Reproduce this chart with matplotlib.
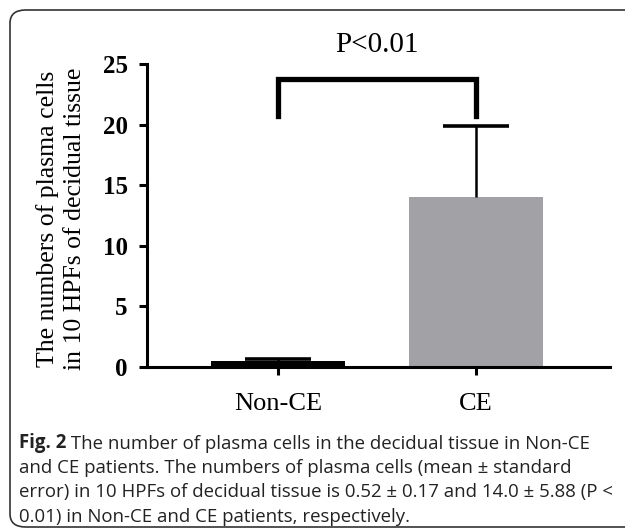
import matplotlib
matplotlib.use("Agg")
import matplotlib.pyplot as plt
from matplotlib.patches import FancyBboxPatch

groups = ["Non-CE", "CE"]
means = [0.52, 14.0]
errors = [0.17, 5.88]
bar_colors = ["black", "#a2a1a6"]
y_ticks = [0, 5, 10, 15, 20, 25]
p_text = "P<0.01"

caption_lines = [
    "The number of plasma cells in the decidual tissue in Non-CE",
    "and CE patients. The numbers of plasma cells (mean ± standard",
    "error) in 10 HPFs of decidual tissue is 0.52 ± 0.17 and 14.0 ± 5.88 (P <",
    "0.01) in Non-CE and CE patients, respectively.",
]

serif = ["Liberation Serif", "DejaVu Serif"]

fig = plt.figure(figsize=(6.25, 5.29), dpi=100)

# rounded frame around the figure + caption
frame = FancyBboxPatch((10 / 625, 2 / 529), 640 / 625, 517 / 529,
                       boxstyle="round,pad=0,rounding_size=0.025",
                       transform=fig.transFigure, fill=False,
                       edgecolor="#333333", linewidth=1.2)
fig.patches.append(frame)

ax = fig.add_axes([147 / 625, 1 - 367 / 529, (610 - 147) / 625, (367 - 64) / 529])
x = [0, 1]
ax.bar(x, means, width=0.68, color=bar_colors, zorder=2)

# upper-only error bars
cap_w = 0.33
for xi, m, e in zip(x, means, errors):
    ax.vlines(xi, m, m + e, color="black", linewidth=1.8, zorder=3)
    ax.hlines(m + e, xi - cap_w / 2, xi + cap_w / 2, color="black",
              linewidth=2.6, zorder=3)

ax.set_xlim(-0.662, 1.677)
ax.set_ylim(0, 25)
ax.set_yticks(y_ticks)
ax.set_xticks(x)
ax.set_xticklabels(groups, family=serif, fontsize=19)
for lab in ax.get_yticklabels():
    lab.set_family(serif)
    lab.set_fontweight("bold")
    lab.set_fontsize(18)

for s in ["top", "right"]:
    ax.spines[s].set_visible(False)
for s in ["left", "bottom"]:
    ax.spines[s].set_linewidth(2.2)
ax.tick_params(axis="both", direction="out", length=6, width=2.2)
ax.tick_params(axis="y", pad=8)
ax.tick_params(axis="x", pad=13)

fig.text(61 / 625, 1 - 219 / 529,
         "The numbers of plasma cells\nin 10 HPFs of decidual tissue",
         rotation=90, ha="center", va="center", multialignment="center",
         family=serif, fontsize=18.5, linespacing=1.3)

# significance bracket
ax.plot([0, 0, 1, 1], [20.7, 23.8, 23.8, 20.7], color="black",
        linewidth=3.8, clip_on=False, solid_joinstyle="miter")
ax.text(0.5, 26.6, p_text, ha="center", va="center", family=serif, fontsize=21)

# caption
cap_font = ["Open Sans", "DejaVu Sans"]
fs = 13.4
first = fig.text(19 / 625, 1 - 448 / 529, "Fig. 2", family=cap_font,
                 fontweight="bold", fontsize=fs, color="#222222")
ax.annotate(" " + caption_lines[0], xy=(1, 0), xycoords=first, va="bottom",
            ha="left", family=cap_font, fontsize=fs, color="#222222")
for i, line in enumerate(caption_lines[1:]):
    fig.text(19 / 625, 1 - (448 + 24.6 * (i + 1)) / 529, line, family=cap_font,
             fontsize=fs, color="#222222")

fig.savefig("out.png", dpi=100)
